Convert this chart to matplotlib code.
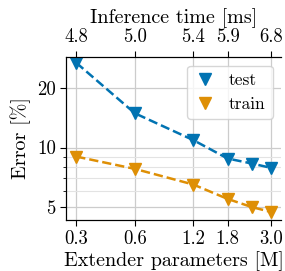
import numpy as np
import matplotlib
matplotlib.use("Agg")
import matplotlib.pyplot as plt
from matplotlib.ticker import FixedLocator, NullLocator, NullFormatter

plt.rcParams['font.family'] = 'serif'
plt.rcParams['font.serif'] = ['cmr10']
plt.rcParams['mathtext.fontset'] = 'cm'
plt.rcParams['axes.formatter.use_mathtext'] = True

# data
params = [0.3, 0.6, 1.2, 1.8, 2.4, 3.0]
test_err = [26.8, 14.9, 10.9, 8.8, 8.3, 7.9]
train_err = [9.0, 7.8, 6.5, 5.5, 5.0, 4.73]

xticks = [0.3, 0.6, 1.2, 1.8, 3.0]
xticklabels = ["0.3", "0.6", "1.2", "1.8", "3.0"]
time_labels = ["4.8", "5.0", "5.4", "5.9", "6.8"]
yticks = [5, 10, 20]

blue = '#0173b2'
orange = '#de8f05'

fig = plt.figure(figsize=(2.85, 2.71), dpi=100)
ax = fig.add_axes([0.232, 0.188, 0.755, 0.602])

ax.plot(params, test_err, 'v--', color=blue, lw=1.8, ms=9, label='test')
ax.plot(params, train_err, 'v--', color=orange, lw=1.8, ms=9, label='train')

ax.set_xscale('log')
ax.set_yscale('log')
ax.set_xlim(0.266, 3.4)
ax.set_ylim(4.3, 28.7)

ax.xaxis.set_major_locator(FixedLocator(xticks))
ax.set_xticklabels(xticklabels)
ax.xaxis.set_minor_locator(NullLocator())
ax.yaxis.set_major_locator(FixedLocator(yticks))
ax.set_yticklabels([str(v) for v in yticks])
ax.yaxis.set_minor_locator(FixedLocator([6, 7, 8, 9]))
ax.yaxis.set_minor_formatter(NullFormatter())

ax.grid(True, which='major', color='#cccccc', lw=0.9)
ax.grid(True, which='minor', axis='y', color='#e3e3e3', lw=0.8)
ax.set_axisbelow(True)
ax.tick_params(labelsize=13.5, length=4)
ax.tick_params(which='minor', length=2.5)
ax.spines['right'].set_visible(False)

ax.set_xlabel('Extender parameters [M]', fontsize=14.5, labelpad=2)
ax.set_ylabel('Error [%]', fontsize=14.5, labelpad=4)

top = ax.twiny()
top.set_xscale('log')
top.set_xlim(ax.get_xlim())
top.xaxis.set_major_locator(FixedLocator(xticks))
top.set_xticklabels(time_labels)
top.xaxis.set_minor_locator(NullLocator())
top.tick_params(labelsize=13.5, length=4)
top.spines['right'].set_visible(False)
top.set_xlabel('Inference time [ms]', fontsize=14.5, labelpad=4)

leg = ax.legend(loc='upper right', handlelength=1.2, fontsize=12.5,
                borderaxespad=0.5, framealpha=0.8)
for h in leg.legend_handles:
    h.set_linestyle('none')

fig.savefig('out.png', dpi=100)
